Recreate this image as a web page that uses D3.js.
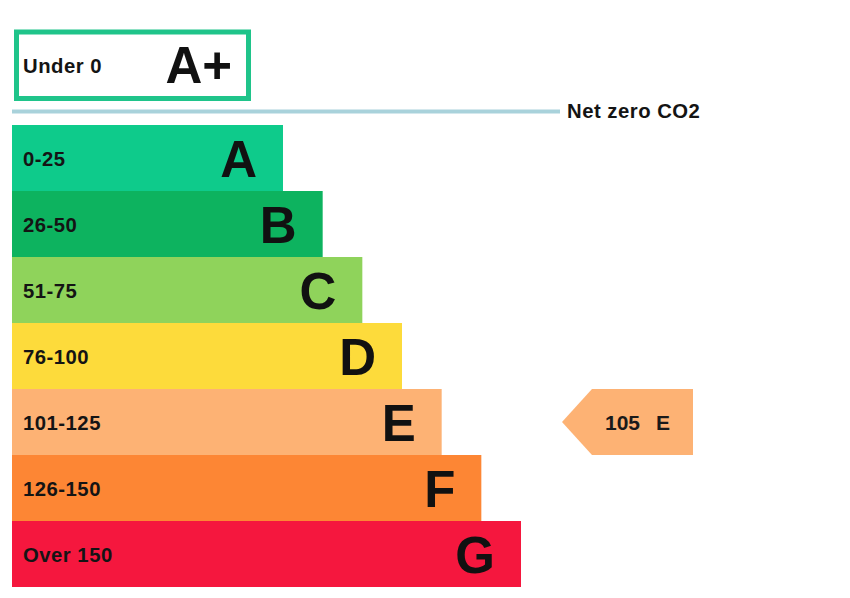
<!DOCTYPE html>
<html><head><meta charset="utf-8">
<script src="https://cdn.jsdelivr.net/npm/d3@7"></script>
<style>html,body{margin:0;padding:0;background:#fff;}svg{display:block;}</style>
</head><body>
<script>
const bands = ["A","B","C","D","E","F","G"];
const ranges = ["0-25","26-50","51-75","76-100","101-125","126-150","Over 150"];
const colors = ["#0ecb8b","#0db35f","#8fd35b","#fddb3b","#fdb274","#fd8634","#f5173e"];
const topBand = "A+";
const topRange = "Under 0";
const topColor = "#1fc48a";
const netZeroLabel = "Net zero CO2";
const currentValue = 105;
const currentBand = "E";

const W = 850, H = 598;
const svg = d3.select("body").append("svg").attr("width", W).attr("height", H);
const font = "'Liberation Sans', Arial, sans-serif";

const y = d3.scaleBand().domain(bands).range([125, 587]).padding(0);
const xEnd = d3.scaleLinear().domain([0, bands.length - 1]).range([283, 521]);
const x0 = 12;

function small(sel) {
  return sel.attr("font-family", font).attr("font-weight", "bold").attr("font-size", 20.3)
    .attr("letter-spacing", 0.5).attr("fill", "#141414");
}

// A+ box
svg.append("rect").attr("x", 16.5).attr("y", 32).attr("width", 232).attr("height", 66.5)
  .attr("fill", "#fff").attr("stroke", topColor).attr("stroke-width", 5);
small(svg.append("text").attr("x", 23).attr("y", 72.5).text(topRange));
svg.append("text").attr("x", 232).attr("y", 83.3).attr("text-anchor", "end").text(topBand)
  .attr("font-family", font).attr("font-weight", "bold").attr("font-size", 51).attr("fill", "#111");

// Net zero line
svg.append("line").attr("x1", 12).attr("x2", 560).attr("y1", 111.5).attr("y2", 111.5)
  .attr("stroke", "#a9d2db").attr("stroke-width", 4);
small(svg.append("text").attr("x", 567).attr("y", 117.5).text(netZeroLabel));

// Bars
const g = svg.append("g");
bands.forEach((b, i) => {
  const yy = y(b), h = y.bandwidth(), xe = xEnd(i);
  g.append("rect").attr("x", x0).attr("y", yy).attr("width", xe - x0).attr("height", h).attr("fill", colors[i]);
  small(g.append("text").attr("x", 23).attr("y", yy + h / 2 + 7.5).text(ranges[i]));
  g.append("text").attr("x", xe - 26).attr("y", yy + h / 2 + 19).attr("text-anchor", "end").text(b)
    .attr("font-family", font).attr("font-weight", "bold").attr("font-size", 51).attr("fill", "#111");
});

// Current rating arrow
const ci = bands.indexOf(currentBand);
const ay = y(currentBand), ah = y.bandwidth();
const tipX = 562, bodyX = 592, rightX = 693;
svg.append("polygon")
  .attr("points", [[tipX, ay + ah / 2], [bodyX, ay], [rightX, ay], [rightX, ay + ah], [bodyX, ay + ah]].map(p => p.join(",")).join(" "))
  .attr("fill", colors[ci]);
svg.append("text").attr("x", 605).attr("y", ay + ah / 2 + 7.5).text(String(currentValue))
  .attr("font-family", font).attr("font-weight", "bold").attr("font-size", 21).attr("fill", "#1a1a1a");
svg.append("text").attr("x", 656).attr("y", ay + ah / 2 + 7.5).text(currentBand)
  .attr("font-family", font).attr("font-weight", "bold").attr("font-size", 21).attr("fill", "#1a1a1a");
</script>
</body></html>
